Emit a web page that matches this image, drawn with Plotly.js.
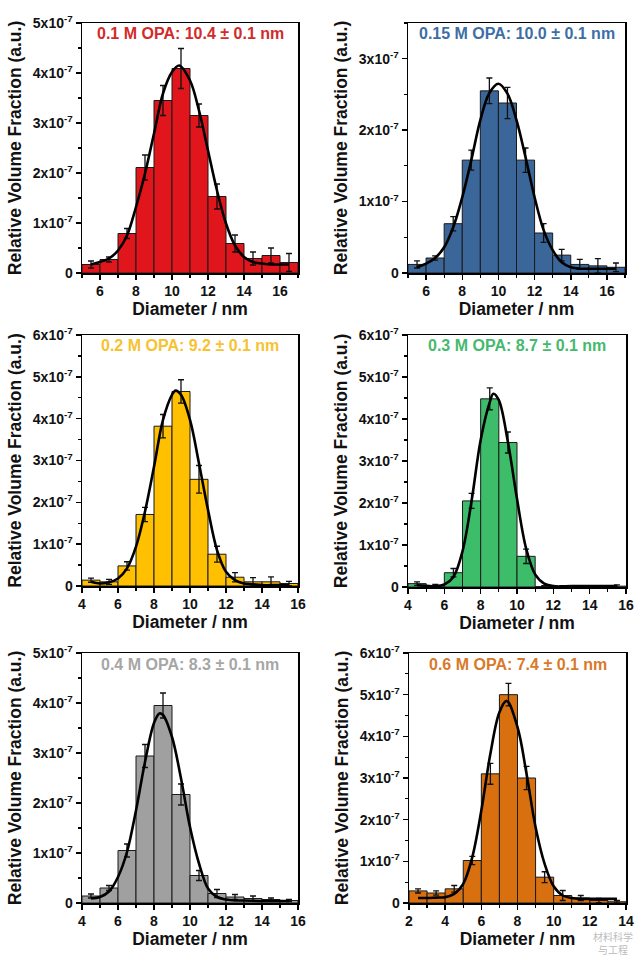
<!DOCTYPE html>
<html><head><meta charset="utf-8">
<script src="https://cdn.plot.ly/plotly-3.0.1.min.js"></script>
<style>html,body{margin:0;padding:0;background:#fff}#chart{width:640px;height:956px}</style>
</head><body><div id="chart"></div>
<script>
// ---- data (y values in units of 1e-7) ----
const p1Label = "0.1 M OPA: 10.4 ± 0.1 nm";
const p1Bins = [5.5,6.5,7.5,8.5,9.5,10.5,11.5,12.5,13.5,14.5,15.5,16.5];
const p1Vals = [0.17,0.27,0.79,2.11,3.45,4.09,3.15,1.53,0.59,0.29,0.35,0.21];
const p1Err  = [0.07,0.05,0.10,0.25,0.30,0.40,0.23,0.25,0.17,0.13,0.15,0.18];
const p1FitX = [5.5,6,6.5,7,7.5,8,8.5,9,9.5,10,10.4,11,11.5,12,12.5,13,13.5,14,14.5,15,15.5,16,16.5];
const p1FitY = [0.17,0.22,0.29,0.45,0.75,1.32,1.99,2.79,3.59,4.02,4.15,3.85,3.25,2.45,1.65,0.99,0.55,0.32,0.22,0.19,0.17,0.17,0.17];

const p2Label = "0.15 M OPA: 10.0 ± 0.1 nm";
const p2Bins = [5.5,6.5,7.5,8.5,9.5,10.5,11.5,12.5,13.5,14.5,15.5,16.5];
const p2Vals = [0.12,0.21,0.69,1.58,2.55,2.38,1.58,0.56,0.25,0.12,0.10,0.08];
const p2Err  = [0.05,0.03,0.10,0.14,0.18,0.22,0.17,0.13,0.08,0.07,0.10,0.06];
const p2FitX = [5.5,6,6.5,7,7.5,8,8.5,9,9.5,10,10.5,11,11.5,12,12.5,13,13.5,14,14.5,15,15.5,16,16.5];
const p2FitY = [0.08,0.13,0.21,0.36,0.64,1.06,1.58,2.14,2.52,2.65,2.51,2.14,1.62,1.06,0.60,0.32,0.15,0.08,0.06,0.06,0.06,0.06,0.06];

const p3Label = "0.2 M OPA: 9.2 ± 0.1 nm";
const p3Bins = [4.5,5.5,6.5,7.5,8.5,9.5,10.5,11.5,12.5,13.5,14.5,15.5];
const p3Vals = [0.14,0.10,0.48,1.71,3.82,4.65,2.55,0.76,0.21,0.10,0.10,0.06];
const p3Err  = [0.05,0.06,0.10,0.17,0.28,0.28,0.33,0.19,0.11,0.10,0.12,0.05];
const p3FitX = [4.5,5,5.5,6,6.5,7,7.5,8,8.5,9,9.2,9.5,10,10.5,11,11.5,12,12.5,13,13.5,14,14.5,15,15.5];
const p3FitY = [0.10,0.06,0.09,0.18,0.42,0.94,1.78,2.85,3.97,4.57,4.67,4.57,3.97,2.93,1.82,0.86,0.34,0.14,0.06,0.04,0.02,0.02,0.02,0.02];

const p4Label = "0.3 M OPA: 8.7 ± 0.1 nm";
const p4Bins = [4.5,5.5,6.5,7.5,8.5,9.5,10.5,11.5,12.5,13.5,14.5,15.5];
const p4Vals = [0.08,0.03,0.34,2.05,4.48,3.44,0.73,0.01,0.01,0.01,0.01,0.02];
const p4Err  = [0.04,0.03,0.10,0.18,0.26,0.25,0.17,0.02,0.02,0.02,0.02,0.03];
const p4FitX = [4.5,5,5.5,6,6.5,7,7.5,8,8.5,8.7,9,9.5,10,10.5,11,11.5,12,13,14,15,15.5];
const p4FitY = [0.04,0.03,0.02,0.06,0.24,0.85,2.05,3.50,4.40,4.60,4.45,3.45,2.10,0.92,0.30,0.08,0.02,0.02,0.02,0.02,0.02];

const p5Label = "0.4 M OPA: 8.3 ± 0.1 nm";
const p5Bins = [4.5,5.5,6.5,7.5,8.5,9.5,10.5,11.5,12.5,13.5,14.5,15.5];
const p5Vals = [0.14,0.30,1.05,2.94,3.95,2.17,0.55,0.19,0.12,0.09,0.07,0.05];
const p5Err  = [0.04,0.05,0.13,0.23,0.25,0.21,0.10,0.08,0.05,0.05,0.03,0.02];
const p5FitX = [4.5,5,5.5,6,6.5,7,7.5,8,8.3,8.5,9,9.5,10,10.5,11,11.5,12,12.5,13,14,15,15.5];
const p5FitY = [0.09,0.12,0.23,0.52,1.02,1.85,2.82,3.60,3.79,3.76,3.32,2.49,1.52,0.79,0.29,0.12,0.07,0.05,0.05,0.04,0.04,0.04];

const p6Label = "0.6 M OPA: 7.4 ± 0.1 nm";
const p6Bins = [2.5,3.5,4.5,5.5,6.5,7.5,8.5,9.5,10.5,11.5,12.5,13.5];
const p6Vals = [0.29,0.24,0.34,1.02,3.10,5.00,3.00,0.62,0.18,0.12,0.06,0.03];
const p6Err  = [0.05,0.05,0.08,0.10,0.25,0.27,0.28,0.13,0.12,0.06,0.05,0.03];
const p6FitX = [2.5,3,3.5,4,4.5,5,5.5,6,6.5,7,7.4,8,8.5,9,9.5,10,10.5,11,11.5,12,12.5,13,13.5];
const p6FitY = [0.12,0.12,0.13,0.14,0.22,0.46,1.10,2.22,3.58,4.58,4.85,4.22,3.10,1.82,0.94,0.40,0.18,0.12,0.10,0.10,0.10,0.10,0.10];

const yTickVals = [0,1,2,3,4,5,6];
const yTickText = ["0","1x10<sup>-7</sup>","2x10<sup>-7</sup>","3x10<sup>-7</sup>","4x10<sup>-7</sup>","5x10<sup>-7</sup>","6x10<sup>-7</sup>"];
const xTitle = "Diameter / nm";
const yTitle = "Relative Volume Fraction (a.u.)";
const watermark = "材料科学<br>与工程";

// ---- layout/style ----
const W = 640, H = 956;
const FONT = "Liberation Sans, Arial, sans-serif";
const panels = [
  {label:p1Label, bins:p1Bins, vals:p1Vals, err:p1Err, fx:p1FitX, fy:p1FitY, color:"#E1161C", tcolor:"#D42A2A", xd:[82,298], yd:[23,273], xr:[5,17], yr:[0,5]},
  {label:p2Label, bins:p2Bins, vals:p2Vals, err:p2Err, fx:p2FitX, fy:p2FitY, color:"#3A6699", tcolor:"#3D6EA6", xd:[408,625], yd:[23,273], xr:[5,17], yr:[0,3.5]},
  {label:p3Label, bins:p3Bins, vals:p3Vals, err:p3Err, fx:p3FitX, fy:p3FitY, color:"#FFC000", tcolor:"#F7C230", xd:[82,298], yd:[335,586], xr:[4,16], yr:[0,6]},
  {label:p4Label, bins:p4Bins, vals:p4Vals, err:p4Err, fx:p4FitX, fy:p4FitY, color:"#3DBD6A", tcolor:"#45B96D", xd:[408,626], yd:[335,587], xr:[4,16], yr:[0,6]},
  {label:p5Label, bins:p5Bins, vals:p5Vals, err:p5Err, fx:p5FitX, fy:p5FitY, color:"#A0A0A0", tcolor:"#A6A6A6", xd:[82,298], yd:[653,903], xr:[4,16], yr:[0,5]},
  {label:p6Label, bins:p6Bins, vals:p6Vals, err:p6Err, fx:p6FitX, fy:p6FitY, color:"#D8700F", tcolor:"#D9792A", xd:[409,626], yd:[653,903], xr:[2,14], yr:[0,6]}
];

const traces = [];
const layout = {
  width: W, height: H, margin:{l:0,r:0,t:0,b:0},
  paper_bgcolor:"#fff", plot_bgcolor:"#fff", showlegend:false,
  font:{family:FONT, color:"#111"}, annotations:[], bargap:0
};

panels.forEach((p,i)=>{
  const n = i===0 ? "" : String(i+1);
  const xa = "x"+n, ya = "y"+n;
  traces.push({
    type:"bar", x:p.bins, y:p.vals, width:1, xaxis:xa, yaxis:ya,
    marker:{color:p.color, line:{color:"#1a1a1a", width:1}},
    error_y:{type:"data", array:p.err, visible:true, color:"#111", thickness:1.3, width:3},
    hoverinfo:"skip"
  });
  traces.push({
    type:"scatter", mode:"lines", x:p.fx, y:p.fy, xaxis:xa, yaxis:ya,
    line:{color:"#000", width:2.6, shape:"spline", smoothing:1}, hoverinfo:"skip"
  });
  const tv = yTickVals.filter(v=>v<=p.yr[1]);
  layout["xaxis"+n] = {
    domain:[p.xd[0]/W, p.xd[1]/W], anchor:ya, range:p.xr,
    tickmode:"linear", tick0:0, dtick:2, ticks:"outside", ticklen:5, tickwidth:1.5, tickcolor:"#000",
    minor:{tickmode:"linear", tick0:0, dtick:1, ticks:"outside", ticklen:3, tickwidth:1.2, tickcolor:"#000"},
    showline:true, linecolor:"#000", linewidth:1.5, mirror:true, showgrid:false, zeroline:false,
    tickfont:{family:FONT, size:14, weight:700, color:"#111"},
    title:{text:xTitle, font:{family:FONT, size:17.5, weight:700, color:"#111"}, standoff:3}
  };
  layout["yaxis"+n] = {
    domain:[1-p.yd[1]/H, 1-p.yd[0]/H], anchor:xa, range:p.yr,
    tickmode:"array", tickvals:tv, ticktext:yTickText.slice(0,tv.length),
    ticks:"outside", ticklen:5, tickwidth:1.5, tickcolor:"#000",
    minor:{tickmode:"linear", tick0:0, dtick:0.5, ticks:"outside", ticklen:3, tickwidth:1.2, tickcolor:"#000"},
    showline:true, linecolor:"#000", linewidth:1.5, mirror:true, showgrid:false, zeroline:false,
    tickfont:{family:FONT, size:14, weight:700, color:"#111"},
    title:{text:yTitle, font:{family:FONT, size:17.5, weight:700, color:"#111"}, standoff:6}
  };
  layout.annotations.push({
    xref:"paper", yref:"paper", x:(p.xd[0]+p.xd[1])/2/W, y:1-(p.yd[0]+11)/H,
    xanchor:"center", yanchor:"middle", showarrow:false, text:p.label,
    font:{family:FONT, size:16, weight:700, color:p.tcolor}
  });
});

layout.annotations.push({
  xref:"paper", yref:"paper", x:613/W, y:1-943/H, xanchor:"center", yanchor:"middle",
  showarrow:false, text:watermark, align:"center",
  font:{family:"Noto Sans CJK SC", size:10, color:"rgba(140,140,140,0.6)"}
});

Plotly.newPlot("chart", traces, layout, {staticPlot:true, displayModeBar:false});
</script>
</body></html>
